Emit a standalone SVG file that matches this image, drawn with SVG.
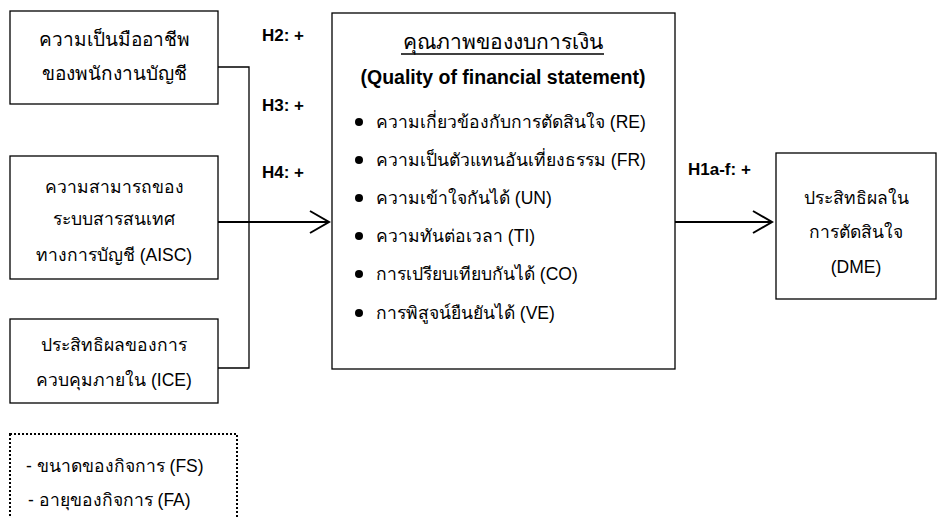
<svg xmlns="http://www.w3.org/2000/svg" width="937" height="518" viewBox="0 0 937 518">
<style>
.box{fill:#fff;stroke:#000;stroke-width:1.3}
.t{font-family:"Liberation Sans","Noto Sans",sans-serif;font-size:17.5px;fill:#000;text-anchor:middle}
.tl{font-family:"Liberation Sans","Noto Sans",sans-serif;font-size:17.5px;fill:#000}
.h{font-family:"Liberation Sans",Arial,sans-serif;font-size:17px;font-weight:bold;fill:#000}
.b{font-family:"Liberation Sans",Arial,sans-serif;font-size:19.5px;font-weight:bold;fill:#000;text-anchor:middle}
.ln{fill:none;stroke:#000;stroke-width:1.3}
.ar{fill:none;stroke:#000;stroke-width:2}
</style>
<rect width="937" height="518" fill="#fff"/>
<g id="connectors">
<polyline class="ln" points="218,67 249,67 249,368 218,368"/>
<line class="ar" x1="218" y1="222" x2="329" y2="222"/>
<polyline class="ar" points="310,211 329,222 310,233"/>
<line class="ar" x1="675" y1="222" x2="772" y2="222"/>
<polyline class="ar" points="753,211 772,222 753,233"/>
</g>
<g id="labels">
<text class="h" x="262" y="41">H2: +</text>
<text class="h" x="262" y="111">H3: +</text>
<text class="h" x="262" y="178">H4: +</text>
<text class="h" x="688" y="175">H1a-f: +</text>
</g>
<g id="n1">
<rect class="box" x="10" y="11" width="208" height="93"/>
<text class="t" x="114" y="46" style="font-size:19px">ความเป็นมืออาชีพ</text>
<text class="t" x="114" y="80" style="font-size:19px">ของพนักงานบัญชี</text>
</g>
<g id="n2">
<rect class="box" x="10" y="156" width="208" height="123"/>
<text class="t" x="114" y="193">ความสามารถของ</text>
<text class="t" x="114" y="225">ระบบสารสนเทศ</text>
<text class="t" x="114" y="261">ทางการบัญชี (AISC)</text>
</g>
<g id="n3">
<rect class="box" x="10" y="319" width="208" height="84"/>
<text class="t" x="114" y="351">ประสิทธิผลของการ</text>
<text class="t" x="114" y="386">ควบคุมภายใน (ICE)</text>
</g>
<g id="n4">
<rect x="10" y="434" width="227" height="100" fill="none" stroke="#000" stroke-width="2" stroke-dasharray="2,2"/>
<text class="tl" x="26" y="472">- ขนาดของกิจการ (FS)</text>
<text class="tl" x="28" y="506">- อายุของกิจการ (FA)</text>
</g>
<g id="n5">
<rect class="box" x="332" y="13" width="343" height="356"/>
<text class="t" x="503" y="49" style="font-size:21px">คุณภาพของงบการเงิน</text>
<line x1="401" y1="54" x2="604" y2="54" stroke="#000" stroke-width="1.5"/>
<text class="b" x="503" y="84">(Quality of financial statement)</text>
<circle cx="359" cy="122" r="4"/>
<text class="tl" x="376" y="128">ความเกี่ยวข้องกับการตัดสินใจ (RE)</text>
<circle cx="359" cy="160" r="4"/>
<text class="tl" x="376" y="166">ความเป็นตัวแทนอันเที่ยงธรรม (FR)</text>
<circle cx="359" cy="198" r="4"/>
<text class="tl" x="376" y="204">ความเข้าใจกันได้ (UN)</text>
<circle cx="359" cy="236" r="4"/>
<text class="tl" x="376" y="242">ความทันต่อเวลา (TI)</text>
<circle cx="359" cy="274" r="4"/>
<text class="tl" x="376" y="280">การเปรียบเทียบกันได้ (CO)</text>
<circle cx="359" cy="313" r="4"/>
<text class="tl" x="376" y="319">การพิสูจน์ยืนยันได้ (VE)</text>
</g>
<g id="n6">
<rect class="box" x="776" y="153" width="160" height="146"/>
<text class="t" x="856" y="204">ประสิทธิผลใน</text>
<text class="t" x="856" y="238">การตัดสินใจ</text>
<text class="t" x="856" y="273">(DME)</text>
</g>
</svg>
